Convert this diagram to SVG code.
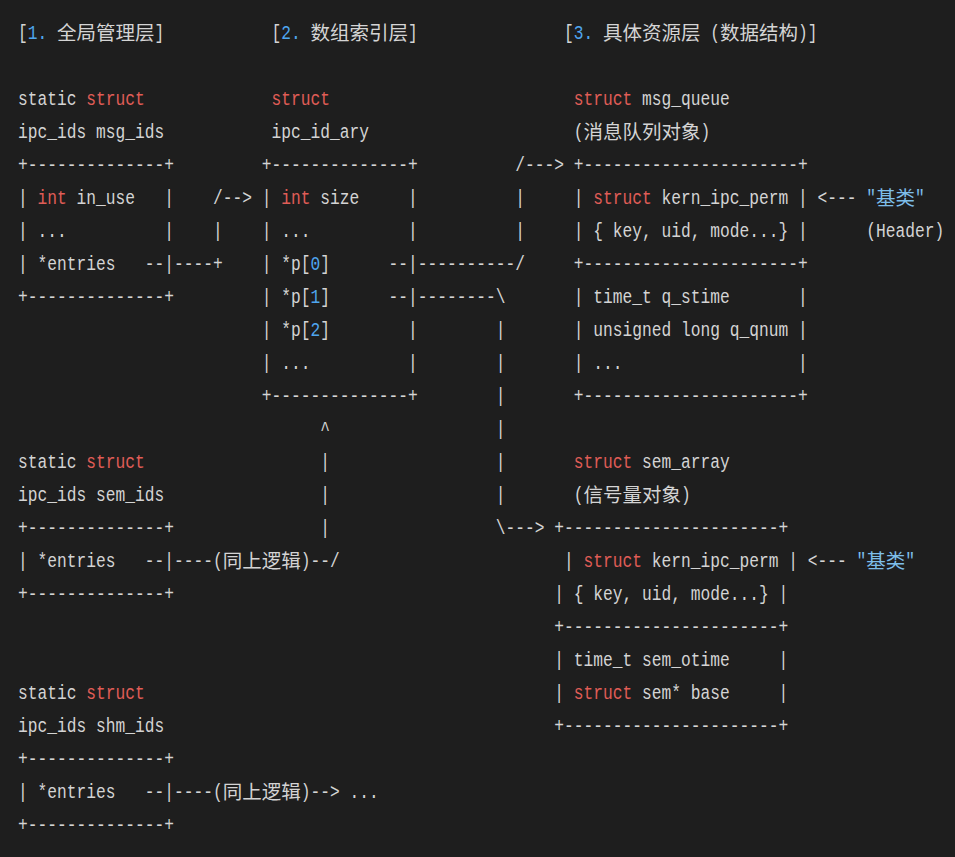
<svg xmlns="http://www.w3.org/2000/svg" width="955" height="857" viewBox="0 0 955 857" xml:space="preserve">
<style>
.a{font-family:"Liberation Mono","DejaVu Sans Mono",monospace;font-size:19.5px;fill:#d4d4d4;white-space:pre}
.c{font-family:"Noto Sans CJK SC","Noto Sans CJK JP",sans-serif;font-size:19.5px;fill:#d4d4d4;white-space:pre}
.k{fill:#e05d57}
.n{fill:#4fa6ef}
.s{fill:#7dbde9}
</style>
<rect width="955" height="857" fill="#1e1e1e"/>
<g id="title-1">
<g transform="scale(0.833333 1)"><text class="a" x="21.6" y="39.5">[<tspan class="n">1.</tspan></text><text class="a" x="185.4" y="39.5">]</text></g>
<text class="c" x="57" y="39.5">全局管理层</text>
</g>
<g id="title-2">
<g transform="scale(0.833333 1)"><text class="a" x="325.8" y="39.5">[<tspan class="n">2.</tspan></text><text class="a" x="489.6" y="39.5">]</text></g>
<text class="c" x="310.5" y="39.5">数组索引层</text>
</g>
<g id="title-3">
<g transform="scale(0.833333 1)"><text class="a" x="676.8" y="39.5">[<tspan class="n">3.</tspan></text><text class="a" x="852.3" y="39.5">(</text><text class="a" x="957.6" y="39.5">)]</text></g>
<text class="c" x="603" y="39.5">具体资源层</text>
<text class="c" x="720" y="39.5">数据结构</text>
</g>
<g id="node-msg_ids">
<g transform="scale(0.833333 1)">
<text class="a" x="21.6" y="105.5">static <tspan class="k">struct</tspan></text>
<text class="a" x="21.6" y="138.5">ipc_ids msg_ids</text>
<text class="a" x="21.6" y="171.5">+--------------+</text>
<text class="a" x="21.6" y="204.5">| <tspan class="k">int</tspan> in_use   |</text>
<text class="a" x="21.6" y="237.5">| ...          |</text>
<text class="a" x="21.6" y="270.5">| *entries</text>
<text class="a" x="197.1" y="270.5">|</text>
<text class="a" x="21.6" y="303.5">+--------------+</text>
</g>
</g>
<g id="node-ipc_id_ary">
<g transform="scale(0.833333 1)">
<text class="a k" x="325.8" y="105.5">struct</text>
<text class="a" x="325.8" y="138.5">ipc_id_ary</text>
<text class="a" x="314.1" y="171.5">+--------------+</text>
<text class="a" x="314.1" y="204.5">| <tspan class="k">int</tspan> size     |</text>
<text class="a" x="314.1" y="237.5">| ...          |</text>
<text class="a" x="314.1" y="270.5">| *p[<tspan class="n">0</tspan>]</text>
<text class="a" x="489.6" y="270.5">|</text>
<text class="a" x="314.1" y="303.5">| *p[<tspan class="n">1</tspan>]</text>
<text class="a" x="489.6" y="303.5">|</text>
<text class="a" x="314.1" y="336.5">| *p[<tspan class="n">2</tspan>]        |</text>
<text class="a" x="314.1" y="369.5">| ...          |</text>
<text class="a" x="314.1" y="402.5">+--------------+</text>
</g>
</g>
<g id="node-msg_queue">
<g transform="scale(0.833333 1)">
<text class="a" x="688.5" y="105.5"><tspan class="k">struct</tspan> msg_queue</text>
<text class="a" x="688.5" y="138.5">(</text>
<text class="a" x="840.6" y="138.5">)</text>
<text class="a" x="688.5" y="171.5">+----------------------+</text>
<text class="a" x="688.5" y="204.5">| <tspan class="k">struct</tspan> kern_ipc_perm |</text>
<text class="a" x="688.5" y="237.5">| { key, uid, mode...} |</text>
<text class="a" x="688.5" y="270.5">+----------------------+</text>
<text class="a" x="688.5" y="303.5">| time_t q_stime       |</text>
<text class="a" x="688.5" y="336.5">| unsigned long q_qnum |</text>
<text class="a" x="688.5" y="369.5">| ...                  |</text>
<text class="a" x="688.5" y="402.5">+----------------------+</text>
</g>
<text class="c" x="583.5" y="138.5">消息队列对象</text>
</g>
<g id="node-sem_ids">
<g transform="scale(0.833333 1)">
<text class="a" x="21.6" y="468.5">static <tspan class="k">struct</tspan></text>
<text class="a" x="21.6" y="501.5">ipc_ids sem_ids</text>
<text class="a" x="21.6" y="534.5">+--------------+</text>
<text class="a" x="21.6" y="567.5">| *entries</text>
<text class="a" x="197.1" y="567.5">|</text>
<text class="a" x="21.6" y="600.5">+--------------+</text>
</g>
</g>
<g id="node-sem_array">
<g transform="scale(0.833333 1)">
<text class="a" x="688.5" y="468.5"><tspan class="k">struct</tspan> sem_array</text>
<text class="a" x="688.5" y="501.5">(</text>
<text class="a" x="817.2" y="501.5">)</text>
<text class="a" x="665.1" y="534.5">+----------------------+</text>
<text class="a" x="676.8" y="567.5">| <tspan class="k">struct</tspan> kern_ipc_perm |</text>
<text class="a" x="665.1" y="600.5">| { key, uid, mode...} |</text>
<text class="a" x="665.1" y="633.5">+----------------------+</text>
<text class="a" x="665.1" y="666.5">| time_t sem_otime     |</text>
<text class="a" x="665.1" y="699.5">| <tspan class="k">struct</tspan> sem* base     |</text>
<text class="a" x="665.1" y="732.5">+----------------------+</text>
</g>
<text class="c" x="583.5" y="501.5">信号量对象</text>
</g>
<g id="node-shm_ids">
<g transform="scale(0.833333 1)">
<text class="a" x="21.6" y="699.5">static <tspan class="k">struct</tspan></text>
<text class="a" x="21.6" y="732.5">ipc_ids shm_ids</text>
<text class="a" x="21.6" y="765.5">+--------------+</text>
<text class="a" x="21.6" y="798.5">| *entries</text>
<text class="a" x="197.1" y="798.5">|</text>
<text class="a" x="21.6" y="831.5">+--------------+</text>
</g>
</g>
<g id="note-msg-base">
<g transform="scale(0.833333 1)">
<text class="a s" x="1039.5" y="204.5">"</text>
<text class="a s" x="1098" y="204.5">"</text>
<text class="a" x="1039.5" y="237.5">(Header)</text>
</g>
<text class="c s" x="876" y="204.5">基类</text>
</g>
<g id="note-sem-base">
<g transform="scale(0.833333 1)">
<text class="a s" x="1027.8" y="567.5">"</text>
<text class="a s" x="1086.3" y="567.5">"</text>
</g>
<text class="c s" x="866.25" y="567.5">基类</text>
</g>
<g id="connectors">
<g transform="scale(0.833333 1)">
<text class="a" x="173.7" y="270.5">--</text>
<text class="a" x="208.8" y="270.5">----+</text>
<text class="a" x="255.6" y="237.5">|</text>
<text class="a" x="255.6" y="204.5">/--&gt;</text>
<text class="a" x="466.2" y="270.5">--</text>
<text class="a" x="501.3" y="270.5">----------/</text>
<text class="a" x="618.3" y="237.5">|</text>
<text class="a" x="618.3" y="204.5">|</text>
<text class="a" x="618.3" y="171.5">/---&gt;</text>
<text class="a" x="466.2" y="303.5">--</text>
<text class="a" x="501.3" y="303.5">--------\</text>
<text class="a" x="594.9" y="336.5">|</text>
<text class="a" x="594.9" y="369.5">|</text>
<text class="a" x="594.9" y="402.5">|</text>
<text class="a" x="594.9" y="435.5">|</text>
<text class="a" x="594.9" y="468.5">|</text>
<text class="a" x="594.9" y="501.5">|</text>
<text class="a" x="594.9" y="534.5">\---&gt;</text>
<text class="a" x="173.7" y="567.5">--</text>
<text class="a" x="208.8" y="567.5">----(</text>
<text class="a" x="360.9" y="567.5">)--/</text>
<text class="a" x="384.3" y="534.5">|</text>
<text class="a" x="384.3" y="501.5">|</text>
<text class="a" x="384.3" y="468.5">|</text>
<text class="a" x="384.3" y="435.5">^</text>
<text class="a" x="173.7" y="798.5">--</text>
<text class="a" x="208.8" y="798.5">----(</text>
<text class="a" x="360.9" y="798.5">)--&gt; ...</text>
<text class="a" x="981" y="204.5">&lt;---</text>
<text class="a" x="969.3" y="567.5">&lt;---</text>
</g>
<text class="c" x="222.75" y="567.5">同上逻辑</text>
<text class="c" x="222.75" y="798.5">同上逻辑</text>
</g>
</svg>
